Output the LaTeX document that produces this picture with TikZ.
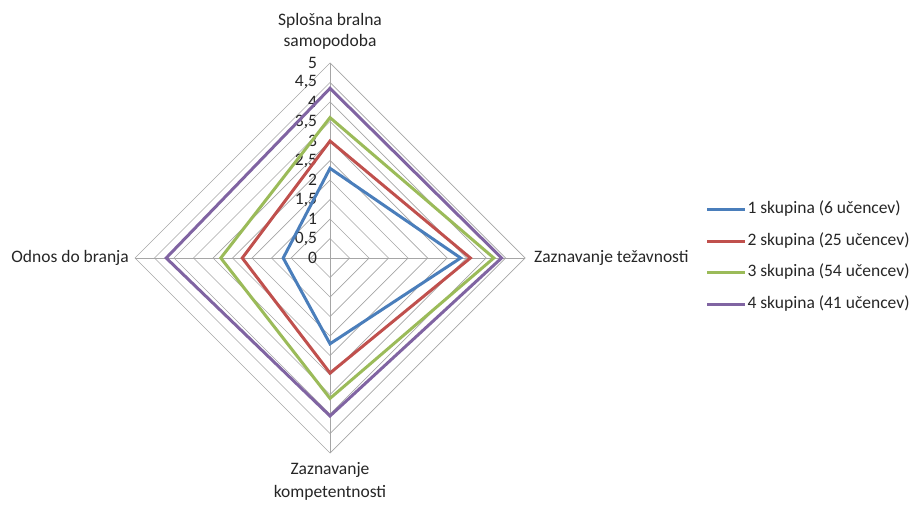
\documentclass[tikz,border=0pt]{standalone}
\usepackage{fontspec}
\setmainfont{Carlito}
\usepackage{xcolor}
\usepackage{tikz}

\definecolor{serblue}{RGB}{74,126,187}
\definecolor{serred}{RGB}{192,80,77}
\definecolor{sergreen}{RGB}{155,187,89}
\definecolor{serviolet}{RGB}{128,100,162}
\tikzset{
  gridline/.style={draw=black!35, line width=0.7pt},
  series/.style={line width=3pt, line join=miter},
  lbl/.style={text=black!85, inner sep=1pt}
}

\begin{document}
\begin{tikzpicture}[x=1pt, y=1pt, font=\fontsize{17.5}{21}\selectfont]
    \useasboundingbox (0,0) rectangle (920,507);

    % Radar grid, one unit = 39pt
    \begin{scope}[shift={(330,249)}, x=39pt, y=39pt]
        \foreach \v in {0.5,1,...,5}
            \draw[gridline] (0,\v) -- (\v,0) -- (0,-\v) -- (-\v,0) -- cycle;
        \draw[gridline] (0,5) -- (0,-5);
        \draw[gridline] (-5,0) -- (5,0);
        \foreach \v/\t in {0/0, 0.5/{0,5}, 1/1, 1.5/{1,5}, 2/2, 2.5/{2,5}, 3/3, 3.5/{3,5}, 4/4, 4.5/{4,5}, 5/5}
            \node[lbl, anchor=east] (tick\t) at (-0.3,\v) {\t};

        % Series
        \draw[series, serblue]   (0,2.3)  -- (3.35,0) -- (0,-2.2)  -- (-1.2,0) -- cycle;
        \draw[series, serred]    (0,3.0)  -- (3.6,0)  -- (0,-2.95) -- (-2.25,0) -- cycle;
        \draw[series, sergreen]  (0,3.6)  -- (4.2,0)  -- (0,-3.6)  -- (-2.8,0) -- cycle;
        \draw[series, serviolet] (0,4.35) -- (4.4,0)  -- (0,-4.05) -- (-4.2,0) -- cycle;
    \end{scope}

    % Axis labels
    \node[lbl, align=center] (top) at (330,476) {Splošna bralna\\samopodoba};
    \node[lbl, anchor=west] (right) at (533,249) {Zaznavanje težavnosti};
    \node[lbl, anchor=east] (left) at (130,249) {Odnos do branja};
    \node[lbl, align=center] (bottom) at (330,26) {Zaznavanje\\[2pt]kompetentnosti};

    % Legend
    \draw[serblue, line width=3pt] (707,298) -- (745,298) node[lbl, right] (leg1) {1 skupina (6 učencev)};
    \draw[serred, line width=3pt] (707,266) -- (745,266) node[lbl, right] (leg2) {2 skupina (25 učencev)};
    \draw[sergreen, line width=3pt] (707,235) -- (745,235) node[lbl, right] (leg3) {3 skupina (54 učencev)};
    \draw[serviolet, line width=3pt] (707,203) -- (745,203) node[lbl, right] (leg4) {4 skupina (41 učencev)};
\end{tikzpicture}
\end{document}
